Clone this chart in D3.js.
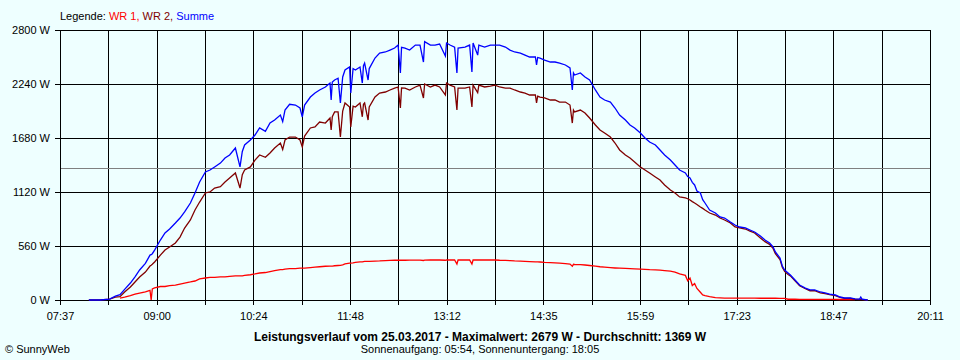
<!DOCTYPE html>
<html>
<head>
<meta charset="utf-8">
<script src="https://cdn.jsdelivr.net/npm/d3@7"></script>
<style>
  html, body { margin: 0; padding: 0; background: #EEFFFF; }
  svg { display: block; }
  text { font-family: "Liberation Sans", Arial, sans-serif; font-size: 11px; fill: #000; }
</style>
</head>
<body>
<svg id="chart" width="960" height="360"></svg>
<script>
// ---------- DATA ----------
const xTickLabels = ["07:37", "09:00", "10:24", "11:48", "13:12", "14:35", "15:59", "17:23", "18:47", "20:11"];
const yTickValues = [0, 560, 1120, 1680, 2240, 2800];
const average = 1369;
const legendItems = ["WR 1,", "WR 2,", "Summe"];
const titleText = "Leistungsverlauf vom 25.03.2017 - Maximalwert: 2679 W - Durchschnitt: 1369 W";
const subtitleText = "Sonnenaufgang: 05:54, Sonnenuntergang: 18:05";

const times = ["08:02","08:12","08:20","08:25","08:29","08:33","08:38","08:42","08:46","08:51",
"08:55","08:56","08:57","08:59","09:04","09:08","09:12","09:17","09:21","09:25",
"09:30","09:34","09:38","09:43","09:47","09:51","09:56","10:00","10:04","10:09",
"10:13","10:15","10:17","10:22","10:26","10:30","10:35","10:39","10:43","10:48",
"10:50","10:52","10:56","11:01","11:05","11:07","11:09","11:14","11:18","11:22",
"11:27","11:31","11:32","11:33","11:35","11:38","11:40","11:42","11:44","11:48",
"11:49","11:51","11:53","11:57","11:59","12:00","12:01","12:04","12:05","12:10",
"12:14","12:19","12:23","12:27","12:30","12:32","12:33","12:36","12:40","12:45",
"12:49","12:52","12:53","12:58","13:02","13:06","13:11","13:12","13:15","13:19",
"13:21","13:22","13:28","13:32","13:34","13:35","13:39","13:40","13:45","13:50",
"13:54","13:58","14:03","14:07","14:11","14:16","14:20","14:24","14:29","14:30",
"14:31","14:33","14:37","14:42","14:46","14:50","14:55","14:59","15:01","15:02",
"15:03","15:08","15:12","15:16","15:21","15:25","15:29","15:34","15:38","15:42",
"15:47","15:51","15:55","16:00","16:04","16:08","16:13","16:17","16:21","16:26",
"16:30","16:34","16:39","16:41","16:43","16:45","16:47","16:49","16:52","16:54",
"16:56","17:00","17:05","17:09","17:13","17:18","17:22","17:26","17:31","17:35",
"17:39","17:44","17:48","17:52","17:55","17:57","18:01","18:03","18:05","18:08",
"18:10","18:14","18:18","18:23","18:27","18:31","18:36","18:40","18:44","18:49",
"18:53","18:57","19:02","19:06","19:10","19:11","19:12","19:17"];

const wr1 = [null,null,null,null,20,30,45,60,72,85,
100,0,115,125,140,140,150,155,165,176,
187,197,218,228,235,235,240,240,245,250,
250,250,255,262,270,280,285,295,305,315,
315,320,325,325,330,330,330,335,340,345,
350,352,352,352,355,358,360,365,375,383,
383,385,390,395,395,398,400,400,400,404,
405,408,410,412,412,412,412,412,413,413,
414,410,414,415,415,415,412,415,415,415,
373,415,415,415,373,415,415,415,415,415,
415,412,410,408,405,403,400,398,396,396,
396,394,390,388,386,383,378,372,350,370,
368,366,363,358,352,345,340,335,332,330,
328,325,323,320,318,315,313,310,305,300,
290,270,255,200,228,150,170,120,80,52,
45,35,25,22,20,20,20,20,20,20,
20,18,18,18,18,18,17,16,16,8,
8,8,7,7,7,7,7,6,6,6,
5,5,4,4,null,null,null,null];

const wr2 = [0,0,10,30,35,83,135,187,238,290,
352,360,370,394,466,518,550,591,653,746,
830,933,1016,1110,1120,1161,1175,1224,1265,1317,
1161,1300,1348,1380,1450,1504,1480,1525,1576,1628,
1560,1659,1690,1690,1659,1587,1700,1784,1794,1846,
1835,1887,1763,1900,1950,1950,1690,1960,2043,2001,
1794,2010,2001,2043,1900,2030,2043,1866,2001,2105,
2146,2157,2178,2198,2209,1991,2200,2198,2178,2209,
2229,2095,2240,2209,2229,2209,2126,2250,2229,2209,
1970,2198,2198,2209,2001,2229,2150,2229,2209,2219,
2229,2209,2198,2198,2178,2157,2146,2126,2126,2043,
2115,2105,2095,2074,2074,2053,2053,2022,1835,1970,
1950,1970,1939,1887,1815,1763,1732,1690,1628,1556,
1504,1473,1431,1380,1348,1317,1276,1244,1193,1141,
1110,1068,1058,1050,1037,1020,1006,990,964,950,
933,902,881,850,830,798,757,747,736,715,
695,643,605,575,535,480,420,340,296,265,
250,198,148,117,96,96,75,66,56,46,
26,16,16,8,5,5,5,0];

const summe = [0,0,10,40,55,110,176,240,311,380,
466,470,480,518,622,695,736,798,850,913,
1006,1110,1224,1328,1348,1380,1420,1473,1504,1576,
1380,1540,1608,1659,1711,1784,1750,1835,1866,1918,
1850,1970,2030,2022,1991,1898,2022,2105,2146,2178,
2209,2250,2074,2260,2281,2300,2043,2313,2385,2416,
2146,2400,2385,2416,2250,2430,2457,2281,2400,2509,
2561,2572,2592,2613,2644,2354,2620,2613,2592,2644,
2644,2468,2679,2644,2644,2654,2530,2665,2644,2623,
2354,2613,2623,2644,2364,2665,2540,2644,2623,2644,
2644,2644,2623,2592,2572,2561,2540,2520,2520,2437,
2515,2509,2488,2468,2468,2457,2437,2406,2178,2354,
2333,2354,2313,2281,2178,2105,2074,2053,1991,1918,
1866,1815,1784,1732,1680,1638,1607,1555,1504,1452,
1400,1348,1317,1280,1265,1220,1193,1130,1110,1040,
1006,933,902,861,850,809,778,757,747,726,
705,664,622,591,550,498,436,353,311,280,
259,207,156,124,104,104,83,73,62,52,
31,21,21,12,10,31,10,0];

// ---------- CHART ----------
(function () {
const svg = d3.select("#chart");
const W = 960, H = 360;
const pLeft = 60, pRight = 930, pTop = 30, pBottom = 300;

const toMin = s => { const [h, m] = s.split(":").map(Number); return h * 60 + m; };
const tStart = toMin(xTickLabels[0]);
const tEnd = toMin(xTickLabels[xTickLabels.length - 1]);

const x = d3.scaleLinear().domain([tStart, tEnd]).range([pLeft, pRight]);
const y = d3.scaleLinear().domain([0, 2800]).range([pBottom, pTop]);

svg.append("rect").attr("width", W).attr("height", H).attr("fill", "#EEFFFF");

// tick positions: labelled ticks plus half-interval ticks
const nHalf = (xTickLabels.length - 1) * 2;
const xTickVals = d3.range(nHalf + 1).map(i => tStart + i * (tEnd - tStart) / nHalf);

const crisp = v => Math.round(v) + 0.5;

// vertical grid lines
svg.append("g").selectAll("line").data(xTickVals).join("line")
  .attr("x1", d => crisp(x(d))).attr("x2", d => crisp(x(d)))
  .attr("y1", pTop).attr("y2", pBottom + 5)
  .attr("stroke", "#000").attr("stroke-width", 1).attr("shape-rendering", "crispEdges");

// horizontal grid lines
svg.append("g").selectAll("line").data(yTickValues).join("line")
  .attr("x1", pLeft - 5).attr("x2", pRight + 1)
  .attr("y1", d => crisp(y(d))).attr("y2", d => crisp(y(d)))
  .attr("stroke", "#000").attr("stroke-width", 1).attr("shape-rendering", "crispEdges");

// average line
svg.append("line")
  .attr("x1", pLeft + 1).attr("x2", pRight)
  .attr("y1", crisp(y(average))).attr("y2", crisp(y(average)))
  .attr("stroke", "#808080").attr("stroke-width", 1).attr("shape-rendering", "crispEdges");

// y labels
svg.append("g").selectAll("text").data(yTickValues).join("text")
  .attr("x", 50).attr("y", d => y(d)).attr("dy", "0.36em")
  .attr("text-anchor", "end")
  .text(d => d + " W");

// x labels
svg.append("g").selectAll("text").data(xTickLabels).join("text")
  .attr("x", (d, i) => x(xTickVals[i * 2]) + 0.5).attr("y", 320)
  .attr("text-anchor", "middle")
  .text(d => d);

// series
const tm = times.map(toMin);
const mkLine = arr => d3.line()
  .defined((d, i) => arr[i] !== null)
  .x((d, i) => x(tm[i]))
  .y((d, i) => y(arr[i]))
  .curve(d3.curveLinear)(times);

const series = [
  { values: wr1, color: "#FF0000" },
  { values: wr2, color: "#800000" },
  { values: summe, color: "#0000FF" }
];
svg.append("g").selectAll("path").data(series).join("path")
  .attr("d", d => mkLine(d.values))
  .attr("fill", "none").attr("stroke", d => d.color)
  .attr("stroke-width", 1.3).attr("stroke-linejoin", "miter");

// legend
const legend = svg.append("text").attr("x", 60).attr("y", 20);
legend.append("tspan").text("Legende: ");
const legendColors = ["#FF0000", "#800000", "#0000FF"];
legendItems.forEach((t, i) => {
  legend.append("tspan").style("fill", legendColors[i]).text(t + (i < legendItems.length - 1 ? " " : ""));
});

// title lines
svg.append("text").attr("x", 480).attr("y", 341).attr("text-anchor", "middle")
  .style("font-weight", "bold").style("font-size", "12px").text(titleText);
svg.append("text").attr("x", 480).attr("y", 353).attr("text-anchor", "middle")
  .text(subtitleText);
svg.append("text").attr("x", 5).attr("y", 353).text("\u00A9 SunnyWeb");
})();
</script>
</body>
</html>
